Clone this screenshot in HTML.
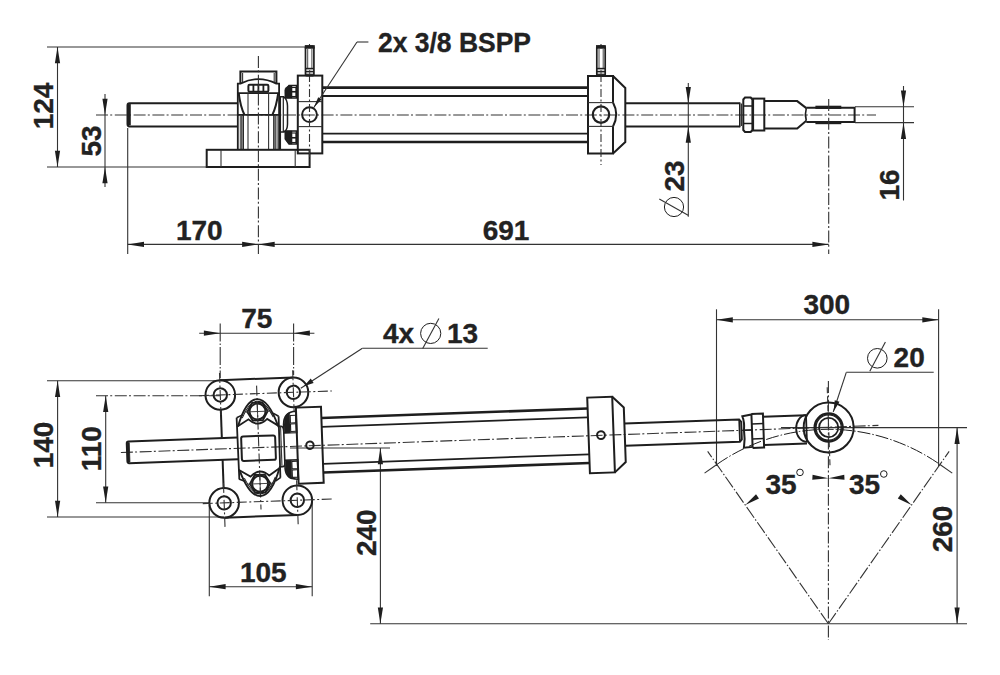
<!DOCTYPE html>
<html><head><meta charset="utf-8"><style>
html,body{margin:0;padding:0;background:#fff;}
svg{display:block;}
text{font-family:"Liberation Sans",sans-serif;font-weight:bold;fill:#222;stroke:#222;stroke-width:0.35px;}
</style></head><body>
<svg width="1000" height="675" viewBox="0 0 1000 675">
<rect width="1000" height="675" fill="#fff"/>
<line x1="96.00" y1="115.00" x2="876.00" y2="115.00" stroke="#333" stroke-width="1.1" stroke-dasharray="12 2.2 2 2.6"/>
<line x1="47.00" y1="47.00" x2="313.00" y2="47.00" stroke="#333" stroke-width="1.1"/>
<line x1="47.00" y1="167.00" x2="207.00" y2="167.00" stroke="#333" stroke-width="1.1"/>
<line x1="57.50" y1="47.00" x2="57.50" y2="167.00" stroke="#333" stroke-width="1.1"/>
<path d="M57.50,47.00 L60.10,63.30 L54.90,63.30 Z" fill="#1e1e1e" stroke="none"/>
<path d="M57.50,167.00 L54.90,150.70 L60.10,150.70 Z" fill="#1e1e1e" stroke="none"/>
<text x="53.00" y="106.00" font-size="28" text-anchor="middle" transform="rotate(-90 53.00 106.00)" >124</text>
<line x1="105.00" y1="94.00" x2="105.00" y2="187.00" stroke="#333" stroke-width="1.1"/>
<path d="M105.00,115.00 L102.40,98.70 L107.60,98.70 Z" fill="#1e1e1e" stroke="none"/>
<path d="M105.00,167.00 L107.60,183.30 L102.40,183.30 Z" fill="#1e1e1e" stroke="none"/>
<text x="101.00" y="141.00" font-size="28" text-anchor="middle" transform="rotate(-90 101.00 141.00)" >53</text>
<line x1="127.70" y1="128.00" x2="127.70" y2="254.00" stroke="#333" stroke-width="1.1"/>
<path d="M237.8,103.2 H129.5 Q127.5,103.2 127.5,105.5 V124 Q127.5,126.4 129.5,126.4 H237.8" stroke="#1e1e1e" stroke-width="2" fill="none"/>
<rect x="128.00" y="104.50" width="2.30" height="20.50" stroke="#1e1e1e" stroke-width="0.8" fill="#1e1e1e"/>
<path d="M240.4,84.1 V71.4 H276.4 V84.1" stroke="#1e1e1e" stroke-width="2.0" fill="none" />
<line x1="242.60" y1="73.00" x2="242.60" y2="83.00" stroke="#333" stroke-width="1.1"/>
<line x1="274.20" y1="73.00" x2="274.20" y2="83.00" stroke="#333" stroke-width="1.1"/>
<path d="M237.8,150 V83.6 H240.4 Q258.4,74.5 276.4,83.6 H279.1 V150" stroke="#1e1e1e" stroke-width="1.8" fill="none" />
<line x1="237.80" y1="93.20" x2="279.10" y2="93.20" stroke="#1e1e1e" stroke-width="1.8"/>
<line x1="237.80" y1="114.80" x2="279.10" y2="114.80" stroke="#1e1e1e" stroke-width="1.8"/>
<rect x="248.4" y="84.8" width="20" height="6.9" rx="1.2" stroke="#1e1e1e" stroke-width="2" fill="none"/>
<line x1="253.40" y1="85.00" x2="253.40" y2="91.50" stroke="#1e1e1e" stroke-width="1.8"/>
<line x1="258.40" y1="85.00" x2="258.40" y2="91.50" stroke="#1e1e1e" stroke-width="1.8"/>
<line x1="263.40" y1="85.00" x2="263.40" y2="91.50" stroke="#1e1e1e" stroke-width="1.8"/>
<path d="M238.7,93.2 Q240.5,107 244.4,114.8" stroke="#1e1e1e" stroke-width="2.0" fill="none" />
<path d="M278.2,93.2 Q276.3,107 272.4,114.8" stroke="#1e1e1e" stroke-width="2.0" fill="none" />
<line x1="248.00" y1="93.20" x2="248.00" y2="150.00" stroke="#333" stroke-width="1.1"/>
<line x1="268.60" y1="93.20" x2="268.60" y2="150.00" stroke="#333" stroke-width="1.1"/>
<line x1="240.30" y1="114.80" x2="240.30" y2="150.00" stroke="#333" stroke-width="0.9"/>
<line x1="241.60" y1="114.80" x2="241.60" y2="150.00" stroke="#333" stroke-width="0.9"/>
<line x1="243.20" y1="114.80" x2="243.20" y2="150.00" stroke="#1e1e1e" stroke-width="1.5"/>
<line x1="273.90" y1="114.80" x2="273.90" y2="150.00" stroke="#1e1e1e" stroke-width="1.5"/>
<line x1="275.60" y1="114.80" x2="275.60" y2="150.00" stroke="#333" stroke-width="0.9"/>
<line x1="277.10" y1="114.80" x2="277.10" y2="150.00" stroke="#333" stroke-width="0.9"/>
<rect x="206.70" y="149.80" width="102.90" height="17.20" stroke="#1e1e1e" stroke-width="2.0" fill="none"/>
<line x1="221.00" y1="149.80" x2="221.00" y2="167.00" stroke="#333" stroke-width="1.1"/>
<line x1="295.20" y1="149.80" x2="295.20" y2="167.00" stroke="#333" stroke-width="1.1"/>
<path d="M280.3,150 V96.7 H284" stroke="#1e1e1e" stroke-width="1.5" fill="none" />
<line x1="283.30" y1="96.70" x2="283.30" y2="132.00" stroke="#1e1e1e" stroke-width="1.2"/>
<path d="M284,96.7 Q287.5,100 287.5,106 V124 Q287.5,130 284,132 H280.3" stroke="#1e1e1e" stroke-width="1.5" fill="none" />
<path d="M285.3,97.9 L285.3,90 L289,85.5 L296.5,85.5 V97.9 Z" stroke="#1e1e1e" stroke-width="1.5" fill="#fff" />
<path d="M285.3,93 L285.3,88 L289,85.6 L292,85.6 L292,97.9 L286,97.9 Z" stroke="#1e1e1e" stroke-width="0.5" fill="#1e1e1e" />
<rect x="291.50" y="87.50" width="4.50" height="4.00" stroke="#1e1e1e" stroke-width="1.1" fill="none"/>
<rect x="291.50" y="92.00" width="4.50" height="4.50" stroke="#1e1e1e" stroke-width="1.1" fill="none"/>
<path d="M285.3,131 L285.3,139 L289,144 L296.5,144 V131 Z" stroke="#1e1e1e" stroke-width="1.5" fill="#fff" />
<path d="M285.3,131 L285.3,139 L289,144 L292,144 L292,131 Z" stroke="#1e1e1e" stroke-width="0.5" fill="#1e1e1e" />
<rect x="291.50" y="133.00" width="4.50" height="4.50" stroke="#1e1e1e" stroke-width="1.1" fill="none"/>
<rect x="291.50" y="138.00" width="4.50" height="4.50" stroke="#1e1e1e" stroke-width="1.1" fill="none"/>
<rect x="297.80" y="75.60" width="24.50" height="77.80" stroke="#1e1e1e" stroke-width="2.0" fill="none"/>
<line x1="297.80" y1="101.60" x2="322.30" y2="101.60" stroke="#333" stroke-width="1.1"/>
<line x1="297.80" y1="126.60" x2="322.30" y2="126.60" stroke="#333" stroke-width="1.1"/>
<circle cx="309.50" cy="114.60" r="7.40" stroke="#1e1e1e" stroke-width="2.0" fill="none"/>
<line x1="309.50" y1="44.00" x2="309.50" y2="160.00" stroke="#333" stroke-width="1.1" stroke-dasharray="8 2.5 2 2.5"/>
<rect x="305.50" y="46.2" width="8.4" height="29.4" rx="1.2" stroke="#1e1e1e" stroke-width="1.7" fill="#fff"/>
<rect x="305.10" y="45.60" width="9.20" height="2.80" stroke="#1e1e1e" stroke-width="0.6" fill="#1e1e1e"/>
<line x1="307.70" y1="49.00" x2="307.70" y2="68.50" stroke="#333" stroke-width="0.9"/>
<line x1="311.90" y1="49.00" x2="311.90" y2="68.50" stroke="#333" stroke-width="0.9"/>
<line x1="305.50" y1="68.60" x2="313.90" y2="68.60" stroke="#1e1e1e" stroke-width="1.6"/>
<line x1="305.50" y1="71.60" x2="313.90" y2="71.60" stroke="#1e1e1e" stroke-width="1.6"/>
<line x1="305.50" y1="74.30" x2="313.90" y2="74.30" stroke="#1e1e1e" stroke-width="1.2"/>
<line x1="309.70" y1="70.00" x2="309.70" y2="75.00" stroke="#333" stroke-width="0.9"/>
<line x1="322.00" y1="87.60" x2="588.00" y2="87.60" stroke="#1e1e1e" stroke-width="2.6"/>
<line x1="322.00" y1="96.00" x2="588.00" y2="96.00" stroke="#1e1e1e" stroke-width="1.8"/>
<line x1="322.00" y1="133.60" x2="588.00" y2="133.60" stroke="#1e1e1e" stroke-width="1.8"/>
<line x1="322.00" y1="142.00" x2="588.00" y2="142.00" stroke="#1e1e1e" stroke-width="2.6"/>
<path d="M613,102.6 V76 H588 V153.4 H613 V126.4" stroke="#1e1e1e" stroke-width="2.0" fill="none" />
<path d="M613,76 L625.3,88 V142 L613,153.4" stroke="#1e1e1e" stroke-width="2.0" fill="none" />
<line x1="588.00" y1="102.60" x2="613.00" y2="102.60" stroke="#333" stroke-width="1.1"/>
<line x1="588.00" y1="126.40" x2="613.00" y2="126.40" stroke="#333" stroke-width="1.1"/>
<path d="M613,102.6 Q619.5,114.5 613,126.4" stroke="#1e1e1e" stroke-width="2.0" fill="none" />
<circle cx="601.00" cy="114.60" r="8.20" stroke="#1e1e1e" stroke-width="2.2" fill="none"/>
<line x1="601.00" y1="44.00" x2="601.00" y2="165.00" stroke="#333" stroke-width="1.1" stroke-dasharray="8 2.5 2 2.5"/>
<rect x="596.80" y="46.2" width="8.4" height="29.4" rx="1.2" stroke="#1e1e1e" stroke-width="1.7" fill="#fff"/>
<rect x="596.40" y="45.60" width="9.20" height="2.80" stroke="#1e1e1e" stroke-width="0.6" fill="#1e1e1e"/>
<line x1="599.00" y1="49.00" x2="599.00" y2="68.50" stroke="#333" stroke-width="0.9"/>
<line x1="603.20" y1="49.00" x2="603.20" y2="68.50" stroke="#333" stroke-width="0.9"/>
<line x1="596.80" y1="68.60" x2="605.20" y2="68.60" stroke="#1e1e1e" stroke-width="1.6"/>
<line x1="596.80" y1="71.60" x2="605.20" y2="71.60" stroke="#1e1e1e" stroke-width="1.6"/>
<line x1="596.80" y1="74.30" x2="605.20" y2="74.30" stroke="#1e1e1e" stroke-width="1.2"/>
<line x1="601.00" y1="70.00" x2="601.00" y2="75.00" stroke="#333" stroke-width="0.9"/>
<path d="M625.3,103.2 H739.8 M625.3,126.4 H739.8" stroke="#1e1e1e" stroke-width="2.0" fill="none" />
<path d="M739.8,102.5 V127.2" stroke="#1e1e1e" stroke-width="1.6" fill="none" />
<line x1="741.50" y1="103.50" x2="741.50" y2="126.00" stroke="#333" stroke-width="1.1"/>
<path d="M743.3,99.5 L745,97.6 L750.7,97.6 L752.4,99.5 V130 L750.7,131.9 L745,131.9 L743.3,130 Z" stroke="#1e1e1e" stroke-width="2.0" fill="none" />
<line x1="743.30" y1="106.00" x2="752.40" y2="106.00" stroke="#1e1e1e" stroke-width="1.5"/>
<line x1="743.30" y1="123.50" x2="752.40" y2="123.50" stroke="#1e1e1e" stroke-width="1.5"/>
<rect x="753.10" y="98.60" width="11.20" height="31.90" stroke="#1e1e1e" stroke-width="2.0" fill="none"/>
<path d="M764.3,101.1 H797.2 L806.3,108.1 M764.3,128.4 H797.2 L806.3,120.7" stroke="#1e1e1e" stroke-width="2.0" fill="none" />
<path d="M806.3,108.1 Q804.5,114.4 806.3,120.7" stroke="#1e1e1e" stroke-width="1.6" fill="none" />
<path d="M806.3,107.8 H854.6 V122.1 H806.3" stroke="#1e1e1e" stroke-width="2.0" fill="none" />
<line x1="815.40" y1="107.30" x2="841.30" y2="107.30" stroke="#1e1e1e" stroke-width="3.2"/>
<line x1="815.40" y1="122.60" x2="841.30" y2="122.60" stroke="#1e1e1e" stroke-width="3.2"/>
<line x1="828.70" y1="99.00" x2="828.70" y2="254.00" stroke="#333" stroke-width="1.1" stroke-dasharray="12 2.2 2 2.6"/>
<line x1="855.00" y1="106.70" x2="914.00" y2="106.70" stroke="#333" stroke-width="1.1"/>
<line x1="855.00" y1="122.60" x2="914.00" y2="122.60" stroke="#333" stroke-width="1.1"/>
<line x1="903.50" y1="86.00" x2="903.50" y2="200.50" stroke="#333" stroke-width="1.1"/>
<path d="M903.50,106.70 L900.90,90.40 L906.10,90.40 Z" fill="#1e1e1e" stroke="none"/>
<path d="M903.50,122.60 L906.10,138.90 L900.90,138.90 Z" fill="#1e1e1e" stroke="none"/>
<text x="899.00" y="185.00" font-size="28" text-anchor="middle" transform="rotate(-90 899.00 185.00)" >16</text>
<line x1="688.30" y1="83.00" x2="688.30" y2="216.70" stroke="#333" stroke-width="1.1"/>
<path d="M688.30,103.20 L685.70,86.90 L690.90,86.90 Z" fill="#1e1e1e" stroke="none"/>
<path d="M688.30,126.40 L690.90,142.70 L685.70,142.70 Z" fill="#1e1e1e" stroke="none"/>
<text x="684.40" y="176.00" font-size="28" text-anchor="middle" transform="rotate(-90 684.40 176.00)" >23</text>
<circle cx="674.00" cy="207.00" r="9.60" stroke="#1e1e1e" stroke-width="1" fill="none"/>
<line x1="659.30" y1="198.90" x2="688.10" y2="215.20" stroke="#333" stroke-width="1.1"/>
<line x1="127.70" y1="244.40" x2="828.70" y2="244.40" stroke="#333" stroke-width="1.1"/>
<path d="M127.70,244.40 L144.00,241.80 L144.00,247.00 Z" fill="#1e1e1e" stroke="none"/>
<path d="M258.40,244.40 L242.10,247.00 L242.10,241.80 Z" fill="#1e1e1e" stroke="none"/>
<path d="M258.40,244.40 L274.70,241.80 L274.70,247.00 Z" fill="#1e1e1e" stroke="none"/>
<path d="M828.70,244.40 L812.40,247.00 L812.40,241.80 Z" fill="#1e1e1e" stroke="none"/>
<line x1="258.40" y1="56.00" x2="258.40" y2="254.00" stroke="#333" stroke-width="1.1" stroke-dasharray="12 2.2 2 2.6"/>
<text x="199.30" y="240.00" font-size="28" text-anchor="middle" >170</text>
<text x="506.00" y="240.00" font-size="28" text-anchor="middle" >691</text>
<line x1="313.50" y1="108.00" x2="357.00" y2="42.00" stroke="#333" stroke-width="1.1"/>
<line x1="357.00" y1="42.00" x2="368.40" y2="42.00" stroke="#333" stroke-width="1.1"/>
<path d="M313.80,107.60 L318.21,97.33 L321.54,99.54 Z" fill="#1e1e1e" stroke="none"/>
<text x="378.00" y="52.40" font-size="28" text-anchor="start" textLength="153" lengthAdjust="spacingAndGlyphs">2x 3/8 BSPP</text>
<line x1="47.00" y1="380.70" x2="220.00" y2="380.70" stroke="#333" stroke-width="1.1"/>
<line x1="47.00" y1="517.00" x2="224.00" y2="517.00" stroke="#333" stroke-width="1.1"/>
<line x1="57.60" y1="380.70" x2="57.60" y2="517.00" stroke="#333" stroke-width="1.1"/>
<path d="M57.60,380.70 L60.20,397.00 L55.00,397.00 Z" fill="#1e1e1e" stroke="none"/>
<path d="M57.60,517.00 L55.00,500.70 L60.20,500.70 Z" fill="#1e1e1e" stroke="none"/>
<text x="53.40" y="445.00" font-size="28" text-anchor="middle" transform="rotate(-90 53.40 445.00)" >140</text>
<line x1="96.00" y1="395.70" x2="220.00" y2="395.70" stroke="#333" stroke-width="1.1" stroke-dasharray="12 2.2 2 2.6"/>
<line x1="96.00" y1="502.80" x2="209.00" y2="502.80" stroke="#333" stroke-width="1.1"/>
<line x1="105.70" y1="395.70" x2="105.70" y2="502.80" stroke="#333" stroke-width="1.1"/>
<path d="M105.70,395.70 L108.30,412.00 L103.10,412.00 Z" fill="#1e1e1e" stroke="none"/>
<path d="M105.70,502.80 L103.10,486.50 L108.30,486.50 Z" fill="#1e1e1e" stroke="none"/>
<text x="101.40" y="448.70" font-size="28" text-anchor="middle" transform="rotate(-90 101.40 448.70)" >110</text>
<line x1="220.20" y1="323.60" x2="220.20" y2="378.00" stroke="#333" stroke-width="1.1" stroke-dasharray="18 2 1.5 2"/>
<line x1="293.60" y1="323.60" x2="293.60" y2="375.00" stroke="#333" stroke-width="1.1" stroke-dasharray="18 2 1.5 2"/>
<line x1="199.20" y1="333.20" x2="314.40" y2="333.20" stroke="#333" stroke-width="1.1"/>
<path d="M220.20,333.20 L203.90,335.80 L203.90,330.60 Z" fill="#1e1e1e" stroke="none"/>
<path d="M293.60,333.20 L309.90,330.60 L309.90,335.80 Z" fill="#1e1e1e" stroke="none"/>
<text x="256.80" y="328.40" font-size="28" text-anchor="middle" >75</text>
<line x1="209.30" y1="505.00" x2="209.30" y2="596.20" stroke="#333" stroke-width="1.1"/>
<line x1="312.20" y1="502.00" x2="312.20" y2="596.20" stroke="#333" stroke-width="1.1"/>
<line x1="209.30" y1="586.70" x2="312.20" y2="586.70" stroke="#333" stroke-width="1.1"/>
<path d="M209.30,586.70 L225.60,584.10 L225.60,589.30 Z" fill="#1e1e1e" stroke="none"/>
<path d="M312.20,586.70 L295.90,589.30 L295.90,584.10 Z" fill="#1e1e1e" stroke="none"/>
<text x="263.30" y="582.00" font-size="28" text-anchor="middle" >105</text>
<line x1="300.80" y1="388.20" x2="362.40" y2="348.20" stroke="#333" stroke-width="1.1"/>
<line x1="362.40" y1="348.20" x2="487.70" y2="348.20" stroke="#333" stroke-width="1.1"/>
<path d="M303.80,386.20 L310.77,378.58 L313.60,382.94 Z" fill="#1e1e1e" stroke="none"/>
<text x="383.00" y="343.20" font-size="28" text-anchor="start" >4x</text>
<circle cx="430.70" cy="333.40" r="10.10" stroke="#1e1e1e" stroke-width="1" fill="none"/>
<line x1="438.90" y1="318.50" x2="422.70" y2="348.40" stroke="#333" stroke-width="1.1"/>
<text x="447.00" y="343.20" font-size="28" text-anchor="start" >13</text>
<line x1="290.00" y1="448.00" x2="390.00" y2="448.00" stroke="#333" stroke-width="1.1"/>
<line x1="370.20" y1="623.80" x2="967.00" y2="623.80" stroke="#333" stroke-width="1.1"/>
<line x1="380.40" y1="448.00" x2="380.40" y2="623.80" stroke="#333" stroke-width="1.1"/>
<path d="M380.40,448.00 L383.00,464.30 L377.80,464.30 Z" fill="#1e1e1e" stroke="none"/>
<path d="M380.40,623.80 L377.80,607.50 L383.00,607.50 Z" fill="#1e1e1e" stroke="none"/>
<text x="376.20" y="532.70" font-size="28" text-anchor="middle" transform="rotate(-90 376.20 532.70)" >240</text>
<line x1="716.50" y1="309.30" x2="716.50" y2="466.00" stroke="#333" stroke-width="1.1"/>
<line x1="938.60" y1="309.30" x2="938.60" y2="466.00" stroke="#333" stroke-width="1.1"/>
<line x1="716.50" y1="319.80" x2="938.60" y2="319.80" stroke="#333" stroke-width="1.1"/>
<path d="M716.50,319.80 L732.80,317.20 L732.80,322.40 Z" fill="#1e1e1e" stroke="none"/>
<path d="M938.60,319.80 L922.30,322.40 L922.30,317.20 Z" fill="#1e1e1e" stroke="none"/>
<text x="826.80" y="314.20" font-size="28" text-anchor="middle" >300</text>
<line x1="833.20" y1="412.00" x2="846.30" y2="372.30" stroke="#333" stroke-width="1.1"/>
<line x1="846.30" y1="372.30" x2="933.70" y2="372.30" stroke="#333" stroke-width="1.1"/>
<path d="M833.60,411.50 L834.74,400.28 L839.48,401.87 Z" fill="#1e1e1e" stroke="none"/>
<circle cx="877.30" cy="358.30" r="9.80" stroke="#1e1e1e" stroke-width="1" fill="none"/>
<line x1="885.40" y1="342.00" x2="869.80" y2="371.30" stroke="#333" stroke-width="1.1"/>
<text x="893.60" y="367.40" font-size="28" text-anchor="start" >20</text>
<line x1="781.00" y1="427.60" x2="967.00" y2="427.60" stroke="#333" stroke-width="1.1"/>
<line x1="957.10" y1="427.60" x2="957.10" y2="623.80" stroke="#333" stroke-width="1.1"/>
<path d="M957.10,427.60 L959.70,443.90 L954.50,443.90 Z" fill="#1e1e1e" stroke="none"/>
<path d="M957.10,623.80 L954.50,607.50 L959.70,607.50 Z" fill="#1e1e1e" stroke="none"/>
<text x="952.00" y="529.00" font-size="28" text-anchor="middle" transform="rotate(-90 952.00 529.00)" >260</text>
<line x1="828.40" y1="623.80" x2="707.66" y2="451.37" stroke="#333" stroke-width="1.1" stroke-dasharray="13 2 1.5 2"/>
<line x1="716.84" y1="464.47" x2="704.55" y2="473.08" stroke="#333" stroke-width="1.1"/>
<line x1="828.40" y1="623.80" x2="949.14" y2="451.37" stroke="#333" stroke-width="1.1" stroke-dasharray="13 2 1.5 2"/>
<line x1="939.96" y1="464.47" x2="952.25" y2="473.08" stroke="#333" stroke-width="1.1"/>
<path d="M716.84,464.47 A194.5,194.5 0 0 1 939.96,464.47" stroke="#1e1e1e" stroke-width="1" fill="none" stroke-dasharray="13 2 1.5 2"/>
<line x1="828.40" y1="381.00" x2="828.40" y2="640.00" stroke="#333" stroke-width="1.1" stroke-dasharray="12 2.2 2 2.6"/>
<path d="M745.23,505.02 L756.03,494.29 L759.01,498.55 Z" fill="#1e1e1e" stroke="none"/>
<path d="M911.57,505.02 L897.79,498.55 L900.77,494.29 Z" fill="#1e1e1e" stroke="none"/>
<path d="M828.40,478.20 L812.28,479.64 L812.57,474.84 Z" fill="#1e1e1e" stroke="none"/>
<path d="M828.40,478.20 L844.23,474.84 L844.52,479.64 Z" fill="#1e1e1e" stroke="none"/>
<text x="781.00" y="493.60" font-size="28" text-anchor="middle" >35</text>
<circle cx="800.00" cy="472.40" r="3.30" stroke="#1e1e1e" stroke-width="1" fill="none"/>
<text x="864.50" y="493.60" font-size="28" text-anchor="middle" >35</text>
<circle cx="883.80" cy="474.00" r="3.30" stroke="#1e1e1e" stroke-width="1" fill="none"/>
<g transform="translate(258.8 447.6) rotate(-2.05)">
<line x1="-138.00" y1="0.00" x2="620.00" y2="0.00" stroke="#333" stroke-width="1.1" stroke-dasharray="12 2.2 2 2.6"/>
<path d="M-21,-10.8 H-130 Q-131.8,-10.8 -131.8,-8.8 V9 Q-131.8,10.9 -130,10.9 H-21" stroke="#1e1e1e" stroke-width="2" fill="none"/>
<rect x="-131.30" y="-9.60" width="2.00" height="19.30" stroke="#1e1e1e" stroke-width="0.8" fill="#1e1e1e"/>
<circle cx="-36.60" cy="-54.00" r="14.80" stroke="#1e1e1e" stroke-width="2.0" fill="none"/>
<circle cx="-36.60" cy="-54.00" r="6.70" stroke="#1e1e1e" stroke-width="2.0" fill="none"/>
<circle cx="36.60" cy="-54.00" r="14.80" stroke="#1e1e1e" stroke-width="2.0" fill="none"/>
<circle cx="36.60" cy="-54.00" r="6.70" stroke="#1e1e1e" stroke-width="2.0" fill="none"/>
<circle cx="-36.60" cy="54.00" r="14.80" stroke="#1e1e1e" stroke-width="2.0" fill="none"/>
<circle cx="-36.60" cy="54.00" r="6.70" stroke="#1e1e1e" stroke-width="2.0" fill="none"/>
<circle cx="36.60" cy="54.00" r="14.80" stroke="#1e1e1e" stroke-width="2.0" fill="none"/>
<circle cx="36.60" cy="54.00" r="6.70" stroke="#1e1e1e" stroke-width="2.0" fill="none"/>
<line x1="-36.60" y1="-68.80" x2="36.60" y2="-68.80" stroke="#1e1e1e" stroke-width="2.0"/>
<line x1="-36.60" y1="68.80" x2="36.60" y2="68.80" stroke="#1e1e1e" stroke-width="2.0"/>
<line x1="-36.60" y1="-39.20" x2="-36.60" y2="-10.80" stroke="#1e1e1e" stroke-width="2.0"/>
<line x1="-36.60" y1="39.20" x2="-36.60" y2="10.90" stroke="#1e1e1e" stroke-width="2.0"/>
<line x1="-58.00" y1="-54.00" x2="75.00" y2="-54.00" stroke="#333" stroke-width="1.1" stroke-dasharray="10 2.5 2 2.5"/>
<line x1="-58.00" y1="54.00" x2="72.00" y2="54.00" stroke="#333" stroke-width="1.1" stroke-dasharray="10 2.5 2 2.5"/>
<line x1="-36.60" y1="34.00" x2="-36.60" y2="78.00" stroke="#333" stroke-width="1.1" stroke-dasharray="10 2.5 2 2.5"/>
<line x1="36.60" y1="34.00" x2="36.60" y2="78.00" stroke="#333" stroke-width="1.1" stroke-dasharray="10 2.5 2 2.5"/>
<line x1="-36.60" y1="-76.00" x2="-36.60" y2="-34.00" stroke="#333" stroke-width="1.1" stroke-dasharray="10 2.5 2 2.5"/>
<line x1="36.60" y1="-76.00" x2="36.60" y2="-34.00" stroke="#333" stroke-width="1.1" stroke-dasharray="10 2.5 2 2.5"/>
<line x1="0.00" y1="-62.00" x2="0.00" y2="62.00" stroke="#333" stroke-width="1.1" stroke-dasharray="10 2.5 2 2.5"/>
<path d="M-21.1,-30.6 L-20.6,30.6 M20.9,-30.6 L20.5,30.6" stroke="#1e1e1e" stroke-width="1.8" fill="none" />
<path d="M-20.00,-22.00 C-14.00,-40.00 -8.00,-48.50 0.00,-48.50 C8.00,-48.50 14.00,-40.00 20.00,-21.00" stroke="#1e1e1e" stroke-width="1.9" fill="none" />
<path d="M-15.50,-30.00 C-11.00,-40.00 -6.00,-46.30 0.00,-46.30 C6.00,-46.30 11.00,-40.00 15.50,-30.00" stroke="#1e1e1e" stroke-width="1.0" fill="none" />
<path d="M-21.00,-21.50 L-9.30,-28.60 Q0.00,-19.50 9.40,-28.30 L20.50,-21.00" stroke="#1e1e1e" stroke-width="1.8" fill="none" />
<path d="M-21.10,-30.60 L-14.50,-33.50 M20.90,-30.60 L15.50,-34.00" stroke="#1e1e1e" stroke-width="1.6" fill="none" />
<polygon points="10.20,-36.10 5.10,-27.27 -5.10,-27.27 -10.20,-36.10 -5.10,-44.93 5.10,-44.93" stroke="#1e1e1e" stroke-width="1.9" fill="none"/>
<circle cx="0.00" cy="-36.10" r="8.00" stroke="#1e1e1e" stroke-width="2.0" fill="none"/>
<line x1="-13.00" y1="-36.10" x2="13.00" y2="-36.10" stroke="#333" stroke-width="0.9"/>
<line x1="0.00" y1="-46.10" x2="0.00" y2="-26.10" stroke="#333" stroke-width="0.9"/>
<path d="M-20.00,22.00 C-14.00,40.00 -8.00,48.50 0.00,48.50 C8.00,48.50 14.00,40.00 20.00,21.00" stroke="#1e1e1e" stroke-width="1.9" fill="none" />
<path d="M-15.50,30.00 C-11.00,40.00 -6.00,46.30 0.00,46.30 C6.00,46.30 11.00,40.00 15.50,30.00" stroke="#1e1e1e" stroke-width="1.0" fill="none" />
<path d="M-21.00,21.50 L-9.30,28.60 Q0.00,19.50 9.40,28.30 L20.50,21.00" stroke="#1e1e1e" stroke-width="1.8" fill="none" />
<path d="M-21.10,30.60 L-14.50,33.50 M20.90,30.60 L15.50,34.00" stroke="#1e1e1e" stroke-width="1.6" fill="none" />
<polygon points="10.20,36.10 5.10,44.93 -5.10,44.93 -10.20,36.10 -5.10,27.27 5.10,27.27" stroke="#1e1e1e" stroke-width="1.9" fill="none"/>
<circle cx="0.00" cy="36.10" r="8.00" stroke="#1e1e1e" stroke-width="2.0" fill="none"/>
<line x1="-13.00" y1="36.10" x2="13.00" y2="36.10" stroke="#333" stroke-width="0.9"/>
<line x1="0.00" y1="26.10" x2="0.00" y2="46.10" stroke="#333" stroke-width="0.9"/>
<rect x="-17.3" y="-11.7" width="34" height="24.5" rx="2" stroke="#1e1e1e" stroke-width="2" fill="none"/>
<path d="M19.5,-20.5 H23 Q25.5,-20 25.5,-16 V16 Q25.5,20 23,20 H19.5" stroke="#1e1e1e" stroke-width="1.6" fill="none" />
<line x1="22.50" y1="-20.50" x2="22.50" y2="20.00" stroke="#333" stroke-width="1.1"/>
<path d="M25.5,-16 V-22 Q26,-35 38.5,-35 V-13.6 H25.5 Z" stroke="#1e1e1e" stroke-width="1.5" fill="#fff" />
<path d="M26,-16 V-22 Q26.5,-33 32,-34 V-13.8 H26 Z" stroke="#1e1e1e" stroke-width="0.5" fill="#1e1e1e" />
<rect x="32.50" y="-31.00" width="5.50" height="7.50" stroke="#1e1e1e" stroke-width="1.1" fill="none"/>
<rect x="32.50" y="-22.50" width="5.50" height="7.50" stroke="#1e1e1e" stroke-width="1.1" fill="none"/>
<path d="M25.5,16 V22 Q26,33 38.5,33 V13.6 H25.5 Z" stroke="#1e1e1e" stroke-width="1.5" fill="#fff" />
<path d="M26,16 V22 Q26.5,31.5 32,32.5 V13.8 H26 Z" stroke="#1e1e1e" stroke-width="0.5" fill="#1e1e1e" />
<rect x="32.50" y="15.00" width="5.50" height="7.50" stroke="#1e1e1e" stroke-width="1.1" fill="none"/>
<rect x="32.50" y="23.50" width="5.50" height="7.50" stroke="#1e1e1e" stroke-width="1.1" fill="none"/>
<rect x="38.50" y="-38.60" width="25.10" height="76.10" stroke="#1e1e1e" stroke-width="2.0" fill="none"/>
<circle cx="51.20" cy="-0.50" r="3.70" stroke="#1e1e1e" stroke-width="2.0" fill="none"/>
<line x1="63.60" y1="-27.30" x2="330.00" y2="-27.30" stroke="#1e1e1e" stroke-width="2.6"/>
<line x1="63.60" y1="-18.50" x2="330.00" y2="-18.50" stroke="#1e1e1e" stroke-width="1.8"/>
<line x1="63.60" y1="18.50" x2="330.00" y2="18.50" stroke="#1e1e1e" stroke-width="1.8"/>
<line x1="63.60" y1="27.20" x2="330.00" y2="27.20" stroke="#1e1e1e" stroke-width="2.6"/>
<rect x="330.00" y="-38.20" width="25.00" height="75.70" stroke="#1e1e1e" stroke-width="2.0" fill="none"/>
<path d="M355,-38.2 L366.2,-27 V27.5 L355,37.5" stroke="#1e1e1e" stroke-width="2.0" fill="none" />
<circle cx="342.40" cy="-0.30" r="3.90" stroke="#1e1e1e" stroke-width="2.0" fill="none"/>
<path d="M366.2,-11 H481 L483,-8.5 V9 L481,11.3 H366.2" stroke="#1e1e1e" stroke-width="2.0" fill="none" />
<line x1="481.00" y1="-11.00" x2="481.00" y2="11.30" stroke="#1e1e1e" stroke-width="1.6"/>
<path d="M484.4,-14 L493.5,-15.5 V17 L484.8,17.5 Q486.5,9 485.5,0 Q486.5,-8 484.4,-14 Z" stroke="#1e1e1e" stroke-width="2.0" fill="none" />
<line x1="485.50" y1="0.00" x2="493.50" y2="0.00" stroke="#1e1e1e" stroke-width="1.6"/>
<path d="M493.5,-16 H505 V18 H493.5" stroke="#1e1e1e" stroke-width="2.0" fill="none" />
<line x1="493.50" y1="-6.00" x2="505.00" y2="-6.00" stroke="#1e1e1e" stroke-width="1.4"/>
<line x1="493.50" y1="9.00" x2="505.00" y2="9.00" stroke="#1e1e1e" stroke-width="1.4"/>
<path d="M505,-12.8 H548 M505,15.5 H548" stroke="#1e1e1e" stroke-width="2.0" fill="none" />
<path d="M548,-12.8 A9.8,12.6 0 0 0 548,13.8" stroke="#1e1e1e" stroke-width="1.8" fill="none" />
<path d="M548,-12.8 V14" stroke="#1e1e1e" stroke-width="1.8" fill="none" />
<circle cx="570.20" cy="0.30" r="25.00" stroke="#1e1e1e" stroke-width="2.0" fill="none"/>
<circle cx="570.20" cy="0.30" r="14.00" stroke="#1e1e1e" stroke-width="2.4" fill="none"/>
<circle cx="570.20" cy="0.30" r="12.60" stroke="#1e1e1e" stroke-width="1.2" fill="none"/>
<circle cx="570.20" cy="0.30" r="9.60" stroke="#1e1e1e" stroke-width="1.8" fill="none"/>
<line x1="570.20" y1="-40.00" x2="570.20" y2="40.00" stroke="#333" stroke-width="1.1" stroke-dasharray="6 3"/>
</g>
</svg></body></html>
